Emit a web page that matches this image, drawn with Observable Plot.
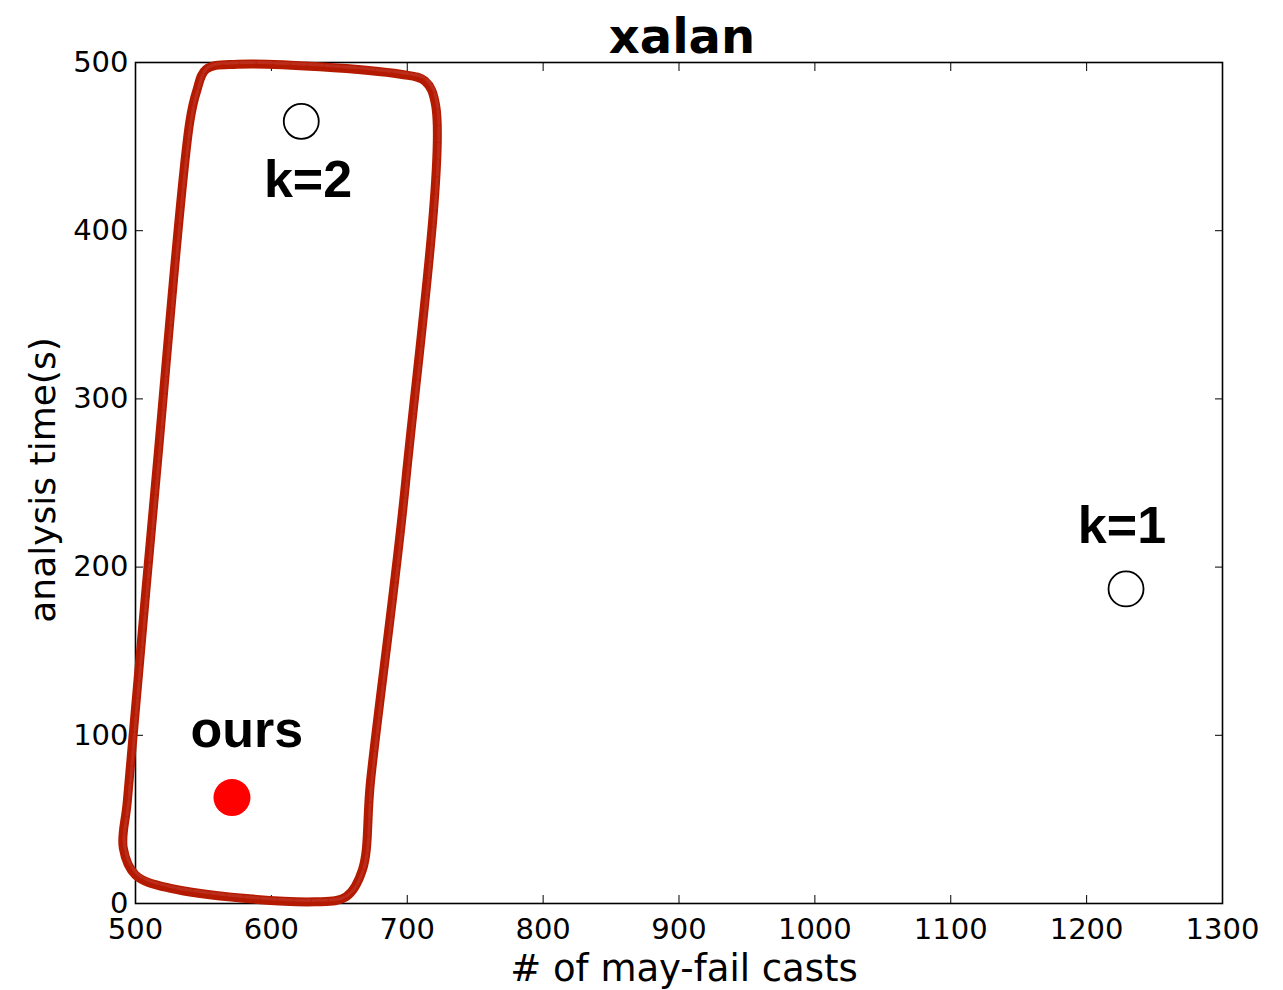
<!DOCTYPE html>
<html>
<head>
<meta charset="utf-8">
<script src="https://cdn.jsdelivr.net/npm/d3@7"></script>
<script src="https://cdn.jsdelivr.net/npm/@observablehq/plot@0.6"></script>
<style>
  html, body { margin: 0; padding: 0; background: white; }
</style>
</head>
<body>
<div id="chart"></div>
<script>
// ---- data ----
const title = "xalan";
const xLabel = "# of may-fail casts";
const yLabel = "analysis time(s)";
const xTicks = [500, 600, 700, 800, 900, 1000, 1100, 1200, 1300];
const yTicks = [0, 100, 200, 300, 400, 500];

// baseline configurations (open circles)
const baselineNames = ["k=1", "k=2"];
const baselineCasts = [1229, 622];
const baselineTimes = [187, 465];

// our configuration (filled red dot)
const oursNames = ["ours"];
const oursCasts = [571];
const oursTimes = [63];

// label anchor points (data units)
const labelTexts = ["k=2", "k=1", "ours"];
const labelCasts = [627, 1226, 582];
const labelTimes = [430, 224, 103];

// hand-drawn highlight outline (data units)
const outlineCasts = [545, 552, 575, 695, 713, 721, 699, 673, 667, 655, 632, 526, 500, 491, 494, 515, 540];
const outlineTimes = [483, 496, 499, 493, 489, 474, 252, 73, 20, 4, 1, 9, 17, 33, 61, 252, 465];

// ---- tables ----
const baselines = baselineNames.map((n, i) => ({name: n, x: baselineCasts[i], y: baselineTimes[i]}));
const ours = oursNames.map((n, i) => ({name: n, x: oursCasts[i], y: oursTimes[i]}));
const labels = labelTexts.map((t, i) => ({text: t, x: labelCasts[i], y: labelTimes[i]}));
const outline = outlineCasts.map((x, i) => ({x, y: outlineTimes[i]}));

const fmt = d3.format("d");

const chart = Plot.plot({
  width: 1283,
  height: 990,
  marginLeft: 135,
  marginRight: 61,
  marginTop: 62,
  marginBottom: 87,
  style: {fontFamily: "DejaVu Sans", fontSize: "29px", color: "black", background: "white"},
  x: {domain: [500, 1300], label: null},
  y: {domain: [0, 500], label: null},
  marks: [
    Plot.axisX({anchor: "bottom", ticks: xTicks, tickFormat: fmt, tickSize: -8, tickPadding: 23, fontSize: 29, label: null}),
    Plot.axisX({anchor: "top", ticks: xTicks, tickSize: -8, tickFormat: () => "", label: null}),
    Plot.axisY({anchor: "left", ticks: yTicks, tickFormat: fmt, tickSize: -8, tickPadding: 15, fontSize: 29, label: null}),
    Plot.axisY({anchor: "right", ticks: yTicks, tickSize: -8, tickFormat: () => "", label: null}),
    Plot.frame({stroke: "black", strokeWidth: 1.6}),
    Plot.dot(baselines, {x: "x", y: "y", r: 17.5, stroke: "black", strokeWidth: 1.8, fill: "none"}),
    Plot.dot(ours, {x: "x", y: "y", r: 18.5, fill: "#ff0000", stroke: "none"}),
    Plot.text(labels, {x: "x", y: "y", text: "text", fontFamily: "Liberation Sans", fontWeight: "bold", fontSize: 52, fill: "black", textAnchor: "middle", lineAnchor: "middle"}),
    Plot.line(outline, {x: "x", y: "y", curve: "catmull-rom-closed", stroke: "#b41a00", strokeWidth: 9, strokeLinejoin: "round"}),
    Plot.line(outline, {x: "x", y: "y", curve: "catmull-rom-closed", stroke: "#c0392b", strokeWidth: 3, strokeOpacity: 0.6, dx: 1.5, dy: -1.5, strokeDasharray: "14 3"}),
    Plot.text([title], {frameAnchor: "top", dy: -25, dx: 3, fontFamily: "DejaVu Sans", fontWeight: "bold", fontSize: 48, fill: "black", lineAnchor: "middle"}),
    Plot.text([xLabel], {frameAnchor: "bottom", dy: 66, dx: 5, fontFamily: "DejaVu Sans", fontSize: 37, fill: "black", textAnchor: "middle", lineAnchor: "middle"}),
    Plot.text([yLabel], {frameAnchor: "left", dx: -92, dy: -3, rotate: -90, fontFamily: "DejaVu Sans", fontSize: 36, fill: "black", textAnchor: "middle", lineAnchor: "middle"})
  ]
});
document.getElementById("chart").appendChild(chart);
</script>
</body>
</html>
